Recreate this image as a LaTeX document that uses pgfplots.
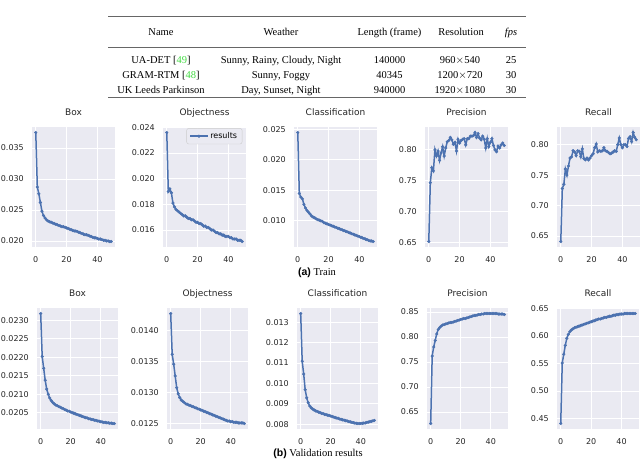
\documentclass[border=0pt]{standalone}
\usepackage{pgfplots}
\pgfplotsset{compat=1.18}
\usepackage{fontspec}
\setmainfont{Liberation Serif}
\newfontfamily\dv{DejaVu Sans}
\newfontfamily\hv{Liberation Sans}
\definecolor{sbbg}{HTML}{EAEAF2}
\definecolor{sbblue}{HTML}{4C72B0}
\definecolor{citegreen}{rgb}{0.25,0.85,0.25}

\pgfplotsset{
  sb/.style={
    scale only axis, width=83pt, height=120pt, anchor=north west,
    axis background/.style={fill=sbbg},
    axis line style={draw=none},
    grid=major, major grid style={white, line width=0.8pt},
    major tick length=0pt,
    enlargelimits=0.05,
    xtick={0,20,40},
    ticklabel style={font=\dv\fontsize{8}{9}\selectfont, text=black!85},
    /pgf/number format/assume math mode=true,
    scaled y ticks=false,
    xticklabel style={anchor=north, inner sep=0pt, yshift=-9pt},
    yticklabel style={anchor=east, inner sep=0pt, xshift=-8pt,
      /pgf/number format/fixed, /pgf/number format/fixed zerofill,
      /pgf/number format/precision=3},
    title style={font=\dv\fontsize{9}{10}\selectfont, anchor=base,
      at={(0.5,1)}, yshift=5.5pt, inner sep=0pt, text=black!85},
    every axis plot post/.append style={color=sbblue, line width=1.5pt,
      mark=*, mark size=1.4pt, mark options={fill=sbblue, draw=sbblue, line width=0.4pt}},
  },
  p2/.style={yticklabel style={/pgf/number format/precision=2}},
  p4/.style={yticklabel style={/pgf/number format/precision=4}},
}

\begin{document}
\begin{tikzpicture}
\useasboundingbox (0pt,0pt) rectangle (640pt,-459pt);

% table
\draw[black!60, line width=0.9pt] (108pt,-16.5pt) -- (526pt,-16.5pt);
\draw[black!60, line width=0.6pt] (108pt,-47.5pt) -- (526pt,-47.5pt);
\draw[black!60, line width=0.9pt] (108pt,-97.3pt) -- (526pt,-97.3pt);
\begin{scope}[every node/.style={anchor=base, inner sep=0pt, font=\fontsize{10.5}{12}\selectfont}]
\node at (161pt,-35pt) {Name};
\node at (281pt,-35pt) {Weather};
\node at (389.5pt,-35pt) {Length (frame)};
\node at (461pt,-35pt) {Resolution};
\node at (511pt,-35pt) {\itshape fps};
\node at (161pt,-63.3pt) {UA-DET [\textcolor{citegreen}{49}]};
\node at (281pt,-63.3pt) {Sunny, Rainy, Cloudy, Night};
\node at (389.5pt,-63.3pt) {140000};
\node at (460pt,-63.3pt) {960$\times$540};
\node at (511pt,-63.3pt) {25};
\node at (161pt,-78.3pt) {GRAM-RTM [\textcolor{citegreen}{48}]};
\node at (281pt,-78.3pt) {Sunny, Foggy};
\node at (389.5pt,-78.3pt) {40345};
\node at (460pt,-78.3pt) {1200$\times$720};
\node at (511pt,-78.3pt) {30};
\node at (161pt,-93.3pt) {UK Leeds Parkinson};
\node at (281pt,-93.3pt) {Day, Sunset, Night};
\node at (389.5pt,-93.3pt) {940000};
\node at (460pt,-93.3pt) {1920$\times$1080};
\node at (511pt,-93.3pt) {30};
\node at (317pt,-275.5pt) {\textbf{\hv (a)} Train};
\node at (318pt,-456.5pt) {\textbf{\hv (b)} Validation results};
\end{scope}

% ---- Train row ----
\begin{axis}[sb, at={(32pt,-127pt)}, title={Box},
  ytick={0.020,0.025,0.030,0.035}]
\addplot coordinates {(0,0.0375)(1,0.0287)(2,0.0276)(3,0.0262)(4,0.0248)(5,0.0241)(6,0.0237)(7,0.0234)(8,0.0232)(9,0.0231)(10,0.0230)(11,0.0229)(12,0.0228)(13,0.0227)(14,0.0226)(15,0.0225)(16,0.0224)(17,0.0223)(18,0.0223)(19,0.0222)(20,0.0221)(21,0.0220)(22,0.0219)(23,0.0218)(24,0.0217)(25,0.0216)(26,0.0216)(27,0.0215)(28,0.0214)(29,0.0213)(30,0.0212)(31,0.0211)(32,0.0210)(33,0.0210)(34,0.0209)(35,0.0208)(36,0.0207)(37,0.0206)(38,0.0205)(39,0.0205)(40,0.0204)(41,0.0203)(42,0.0203)(43,0.0202)(44,0.0201)(45,0.0201)(46,0.0200)(47,0.0200)(48,0.0199)(49,0.0199)};
\end{axis}

\begin{axis}[sb, at={(163pt,-127pt)}, title={Objectness},
  ytick={0.016,0.018,0.020,0.022,0.024},
  legend style={at={(0.955,0.99)}, anchor=north east,
    font=\dv\fontsize{8}{9}\selectfont, fill=sbbg, draw=black!20,
    rounded corners=2pt}]
\addplot coordinates {(0,0.0236)(1,0.0190)(2,0.0192)(3,0.0189)(4,0.0181)(5,0.0178)(6,0.0176)(7,0.0175)(8,0.0174)(9,0.0173)(10,0.0172)(11,0.0171)(12,0.0171)(13,0.0170)(14,0.0169)(15,0.0169)(16,0.0168)(17,0.0168)(18,0.0167)(19,0.0166)(20,0.0166)(21,0.0165)(22,0.0165)(23,0.0164)(24,0.0163)(25,0.0163)(26,0.0162)(27,0.0162)(28,0.0161)(29,0.0160)(30,0.0160)(31,0.0159)(32,0.0158)(33,0.0158)(34,0.0157)(35,0.0157)(36,0.0156)(37,0.0156)(38,0.0155)(39,0.0155)(40,0.0155)(41,0.0154)(42,0.0154)(43,0.0153)(44,0.0153)(45,0.0153)(46,0.0152)(47,0.0152)(48,0.0152)(49,0.0151)};
\addlegendentry{results}
\end{axis}

\begin{axis}[sb, at={(294pt,-127pt)}, title={Classification},
  ytick={0.010,0.015,0.020,0.025}]
\addplot coordinates {(0,0.0245)(1,0.0145)(2,0.0139)(3,0.0136)(4,0.0127)(5,0.0121)(6,0.0117)(7,0.0114)(8,0.0111)(9,0.0108)(10,0.0106)(11,0.0105)(12,0.0103)(13,0.0102)(14,0.0101)(15,0.0100)(16,0.0099)(17,0.0097)(18,0.0096)(19,0.0095)(20,0.0094)(21,0.0093)(22,0.0092)(23,0.0091)(24,0.0090)(25,0.0089)(26,0.0088)(27,0.0087)(28,0.0086)(29,0.0085)(30,0.0084)(31,0.0083)(32,0.0082)(33,0.0081)(34,0.0080)(35,0.0079)(36,0.0078)(37,0.0077)(38,0.0076)(39,0.0075)(40,0.0074)(41,0.0073)(42,0.0072)(43,0.0071)(44,0.0070)(45,0.0069)(46,0.0068)(47,0.0067)(48,0.0067)(49,0.0066)};
\end{axis}

\begin{axis}[sb, p2, at={(425pt,-127pt)}, title={Precision},
  ytick={0.65,0.70,0.75,0.80}]
\addplot coordinates {(0,0.652)(1,0.747)(2,0.771)(3,0.766)(4,0.800)(5,0.790)(6,0.798)(7,0.783)(8,0.795)(9,0.805)(10,0.790)(11,0.803)(12,0.813)(13,0.815)(14,0.820)(15,0.816)(16,0.809)(17,0.812)(18,0.798)(19,0.817)(20,0.811)(21,0.815)(22,0.817)(23,0.818)(24,0.808)(25,0.818)(26,0.818)(27,0.822)(28,0.822)(29,0.823)(30,0.828)(31,0.820)(32,0.826)(33,0.819)(34,0.816)(35,0.822)(36,0.817)(37,0.803)(38,0.818)(39,0.805)(40,0.812)(41,0.818)(42,0.807)(43,0.800)(44,0.797)(45,0.806)(46,0.803)(47,0.808)(48,0.811)(49,0.807)};
\end{axis}

\begin{axis}[sb, p2, at={(557pt,-127pt)}, title={Recall},
  ytick={0.65,0.70,0.75,0.80}]
\addplot coordinates {(0,0.641)(1,0.728)(2,0.735)(3,0.760)(4,0.750)(5,0.765)(6,0.778)(7,0.780)(8,0.790)(9,0.788)(10,0.782)(11,0.790)(12,0.789)(13,0.780)(14,0.793)(15,0.777)(16,0.775)(17,0.778)(18,0.775)(19,0.778)(20,0.782)(21,0.785)(22,0.795)(23,0.801)(24,0.788)(25,0.790)(26,0.789)(27,0.790)(28,0.795)(29,0.790)(30,0.789)(31,0.787)(32,0.785)(33,0.786)(34,0.788)(35,0.790)(36,0.789)(37,0.800)(38,0.811)(39,0.800)(40,0.795)(41,0.800)(42,0.800)(43,0.797)(44,0.810)(45,0.813)(46,0.805)(47,0.820)(48,0.812)(49,0.808)};
\end{axis}

% ---- Validation row ----
\begin{axis}[sb, p4, at={(37pt,-308pt)}, width=81pt, height=121pt, title={Box},
  ytick={0.0205,0.0210,0.0215,0.0220,0.0225,0.0230}]
\addplot coordinates {(0,0.02318)(1,0.02202)(2,0.02170)(3,0.02138)(4,0.02114)(5,0.02100)(6,0.02090)(7,0.02083)(8,0.02078)(9,0.02074)(10,0.02071)(11,0.02069)(12,0.02067)(13,0.02065)(14,0.02063)(15,0.02061)(16,0.02059)(17,0.02057)(18,0.02055)(19,0.02054)(20,0.02052)(21,0.02050)(22,0.02049)(23,0.02047)(24,0.02046)(25,0.02044)(26,0.02043)(27,0.02041)(28,0.02040)(29,0.02038)(30,0.02037)(31,0.02036)(32,0.02034)(33,0.02033)(34,0.02032)(35,0.02031)(36,0.02030)(37,0.02029)(38,0.02028)(39,0.02027)(40,0.02026)(41,0.02025)(42,0.02024)(43,0.02024)(44,0.02023)(45,0.02023)(46,0.02022)(47,0.02022)(48,0.02021)(49,0.02021)};
\end{axis}

\begin{axis}[sb, p4, at={(167pt,-308pt)}, width=81pt, height=121pt, title={Objectness},
  ytick={0.0125,0.0130,0.0135,0.0140}]
\addplot coordinates {(0,0.01428)(1,0.01362)(2,0.01346)(3,0.01327)(4,0.01308)(5,0.01298)(6,0.01292)(7,0.01288)(8,0.01286)(9,0.01284)(10,0.01282)(11,0.01281)(12,0.01280)(13,0.01279)(14,0.01278)(15,0.01277)(16,0.01276)(17,0.01275)(18,0.01274)(19,0.01273)(20,0.01272)(21,0.01271)(22,0.01270)(23,0.01269)(24,0.01268)(25,0.01267)(26,0.01266)(27,0.01265)(28,0.01264)(29,0.01263)(30,0.01262)(31,0.01261)(32,0.01260)(33,0.01259)(34,0.01258)(35,0.01257)(36,0.01256)(37,0.01255)(38,0.01254)(39,0.01254)(40,0.01253)(41,0.01253)(42,0.01252)(43,0.01252)(44,0.01252)(45,0.01251)(46,0.01251)(47,0.01251)(48,0.01251)(49,0.01250)};
\end{axis}

\begin{axis}[sb, at={(297pt,-308pt)}, width=81pt, height=121pt, title={Classification},
  ytick={0.008,0.009,0.010,0.011,0.012,0.013}]
\addplot coordinates {(0,0.01343)(1,0.01109)(2,0.01046)(3,0.00969)(4,0.00929)(5,0.00905)(6,0.00889)(7,0.00880)(8,0.00874)(9,0.00869)(10,0.00865)(11,0.00862)(12,0.00859)(13,0.00856)(14,0.00853)(15,0.00851)(16,0.00848)(17,0.00846)(18,0.00844)(19,0.00842)(20,0.00840)(21,0.00837)(22,0.00835)(23,0.00832)(24,0.00830)(25,0.00828)(26,0.00825)(27,0.00823)(28,0.00821)(29,0.00819)(30,0.00817)(31,0.00815)(32,0.00813)(33,0.00811)(34,0.00809)(35,0.00807)(36,0.00805)(37,0.00804)(38,0.00803)(39,0.00803)(40,0.00803)(41,0.00804)(42,0.00805)(43,0.00806)(44,0.00808)(45,0.00810)(46,0.00812)(47,0.00814)(48,0.00816)(49,0.00818)};
\end{axis}

\begin{axis}[sb, p2, at={(427pt,-308pt)}, width=81pt, height=121pt, title={Precision},
  ytick={0.65,0.70,0.75,0.80,0.85}]
\addplot coordinates {(0,0.627)(1,0.762)(2,0.780)(3,0.793)(4,0.806)(5,0.815)(6,0.819)(7,0.822)(8,0.824)(9,0.825)(10,0.826)(11,0.827)(12,0.828)(13,0.829)(14,0.829)(15,0.830)(16,0.831)(17,0.832)(18,0.833)(19,0.834)(20,0.835)(21,0.836)(22,0.837)(23,0.837)(24,0.838)(25,0.839)(26,0.840)(27,0.841)(28,0.842)(29,0.843)(30,0.843)(31,0.844)(32,0.845)(33,0.845)(34,0.846)(35,0.846)(36,0.847)(37,0.847)(38,0.847)(39,0.847)(40,0.847)(41,0.847)(42,0.847)(43,0.847)(44,0.847)(45,0.846)(46,0.846)(47,0.846)(48,0.846)(49,0.845)};
\end{axis}

\begin{axis}[sb, p2, at={(557pt,-308pt)}, width=82pt, height=121pt, title={Recall},
  ytick={0.45,0.50,0.55,0.60,0.65}]
\addplot coordinates {(0,0.441)(1,0.551)(2,0.567)(3,0.583)(4,0.596)(5,0.603)(6,0.608)(7,0.611)(8,0.613)(9,0.615)(10,0.616)(11,0.617)(12,0.618)(13,0.619)(14,0.620)(15,0.621)(16,0.622)(17,0.623)(18,0.624)(19,0.625)(20,0.626)(21,0.627)(22,0.628)(23,0.629)(24,0.630)(25,0.631)(26,0.631)(27,0.632)(28,0.633)(29,0.634)(30,0.634)(31,0.635)(32,0.636)(33,0.636)(34,0.637)(35,0.638)(36,0.638)(37,0.639)(38,0.639)(39,0.640)(40,0.640)(41,0.640)(42,0.641)(43,0.641)(44,0.641)(45,0.641)(46,0.641)(47,0.641)(48,0.641)(49,0.641)};
\end{axis}
\end{tikzpicture}
\end{document}
